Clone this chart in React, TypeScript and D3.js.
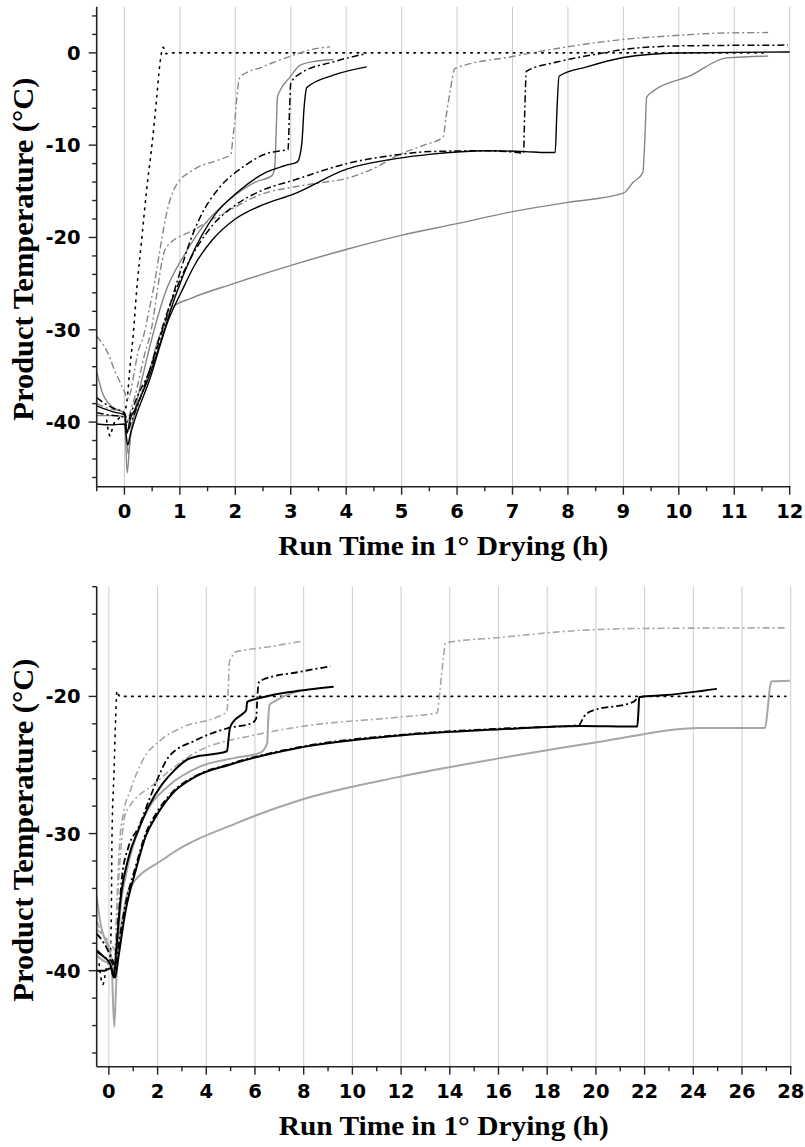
import React from 'react';
import * as d3 from 'd3';

type Pt = [number, number];

// ---------- Top panel (0–12 h) ----------
const topXMajor = [0, 1, 2, 3, 4, 5, 6, 7, 8, 9, 10, 11, 12];
const topXMinor = [-0.5, 0.5, 1.5, 2.5, 3.5, 4.5, 5.5, 6.5, 7.5, 8.5, 9.5, 10.5, 11.5];
const topYMajor = [0, -10, -20, -30, -40];
const topYMinor = [4, 2, -2, -4, -6, -8, -12, -14, -16, -18, -22, -24, -26, -28, -32, -34, -36, -38, -42, -44, -46];

const topShelf: Pt[] = [[-0.32,-39.8],[-0.26,-41.5],[-0.2,-40.3],[-0.1,-39.6],[0.0,-39.0],[0.05,-37.5],[0.1,-34.0],[0.16,-30.5],[0.22,-25.8],[0.31,-20.3],[0.40,-14.9],[0.50,-9.8],[0.58,-5.0],[0.64,-1.2],[0.70,0.6],[0.75,-0.1],[0.80,0.0],[11.6,0.0]];
const topA: Pt[] = [[-0.5,-38.25],[-0.35,-38.6],[-0.2,-38.9],[0.0,-39.2],[0.05,-41.2],[0.09,-40.0],[0.2,-38.5],[0.43,-35.3],[0.67,-31.0],[0.91,-26.5],[1.21,-22.0],[1.6,-17.8],[2.06,-15.0],[2.57,-12.9],[2.9,-12.2],[3.12,-11.8],[3.2,-9.8],[3.24,-6.0],[3.29,-3.76],[3.77,-2.42],[4.37,-1.52]];
const topB: Pt[] = [[-0.5,-37.35],[-0.35,-38.0],[-0.2,-38.5],[0.0,-39.0],[0.06,-40.0],[0.12,-39.0],[0.25,-37.0],[0.45,-34.5],[0.7,-29.8],[0.95,-24.8],[1.21,-20.0],[1.4,-17.4],[1.7,-14.7],[2.18,-12.2],[2.57,-10.9],[2.84,-10.6],[2.95,-10.5],[2.98,-6.0],[3.0,-3.3],[3.17,-2.24],[3.77,-0.97],[4.37,-0.07]];
const topC: Pt[] = [[-0.5,-34.5],[-0.41,-36.6],[-0.23,-38.3],[0.0,-39.0],[0.05,-45.5],[0.1,-42.0],[0.2,-38.5],[0.35,-34.5],[0.55,-29.7],[0.73,-26.1],[1.09,-21.8],[1.455,-18.5],[1.875,-16.0],[2.36,-14.0],[2.66,-13.3],[2.71,-12.5],[2.74,-8.0],[2.76,-4.8],[2.81,-4.05],[2.99,-2.6],[3.17,-1.34],[3.4,-0.95],[3.77,-0.72]];
const topD: Pt[] = [[-0.5,-30.7],[-0.3,-32.5],[-0.17,-34.5],[0.0,-36.7],[0.05,-37.5],[0.1,-37.0],[0.18,-34.5],[0.25,-32.3],[0.34,-30.8],[0.43,-28.3],[0.55,-24.7],[0.67,-20.3],[0.76,-17.4],[0.92,-14.5],[1.28,-12.55],[1.7,-11.6],[1.92,-11.0],[1.96,-9.0],[2.0,-6.9],[2.04,-4.0],[2.09,-2.6],[2.5,-1.5],[3.05,-0.25],[3.4,0.4],[3.71,0.65]];
const topE: Pt[] = [[-0.5,-40.2],[-0.2,-40.3],[0.0,-40.2],[0.06,-42.5],[0.1,-41.5],[0.2,-39.5],[0.45,-35.5],[0.79,-29.0],[1.035,-25.8],[1.275,-22.9],[1.58,-20.3],[2.0,-18.0],[2.48,-16.5],[3.05,-15.3],[4.01,-12.6],[4.97,-11.4],[5.5,-11.0],[6.53,-10.6],[7.23,-10.7],[7.62,-10.8],[7.77,-10.8],[7.8,-6.5],[7.84,-2.53],[8.34,-1.52],[9.0,-0.5],[9.96,-0.01],[12.0,0.1]];
const topF: Pt[] = [[-0.5,-39.0],[-0.3,-39.2],[0.0,-39.5],[0.06,-41.0],[0.12,-40.0],[0.25,-38.0],[0.5,-33.5],[0.75,-28.5],[0.975,-25.0],[1.275,-21.4],[1.6,-18.6],[2.0,-16.5],[2.48,-14.9],[3.05,-13.8],[4.01,-12.0],[4.97,-11.0],[5.5,-10.7],[6.53,-10.6],[7.0,-10.75],[7.2,-10.85],[7.22,-6.5],[7.25,-2.0],[7.8,-1.0],[8.58,-0.07],[9.0,0.37],[10.08,0.76],[11.97,0.84]];
const topG: Pt[] = [[-0.5,-38.0],[-0.3,-38.5],[0.0,-39.0],[0.05,-40.0],[0.1,-39.0],[0.2,-37.0],[0.35,-33.0],[0.5,-29.5],[0.6,-25.5],[0.68,-22.5],[0.75,-21.1],[1.275,-19.1],[1.875,-17.1],[2.48,-15.3],[3.08,-14.5],[3.5,-14.1],[4.01,-13.6],[4.5,-12.5],[4.97,-11.0],[5.4,-10.0],[5.75,-9.1],[5.8,-7.0],[5.88,-4.0],[5.96,-1.7],[7.0,-0.4],[7.98,0.65],[9.0,1.45],[10.0,1.9],[10.8,2.15],[11.61,2.2]];
const topH: Pt[] = [[-0.5,-39.3],[-0.2,-39.3],[0.0,-39.4],[0.07,-43.5],[0.12,-41.0],[0.25,-38.0],[0.45,-34.5],[0.6,-31.2],[0.7,-29.75],[0.855,-27.6],[1.2,-26.6],[1.97,-25.0],[2.99,-23.05],[4.0,-21.3],[4.97,-19.8],[6.0,-18.5],[7.0,-17.2],[8.0,-16.2],[9.0,-15.2],[9.18,-14.0],[9.35,-13.0],[9.39,-9.0],[9.42,-4.8],[9.54,-4.15],[10.2,-2.5],[10.86,-0.54],[11.61,-0.35]];

// ---------- Bottom panel (0–28 h) ----------
const botXMajor = [0, 2, 4, 6, 8, 10, 12, 14, 16, 18, 20, 22, 24, 26, 28];
const botXMinor = [1, 3, 5, 7, 9, 11, 13, 15, 17, 19, 21, 23, 25, 27];
const botYMajor = [-20, -30, -40];
const botYMinor = [-12, -14, -16, -18, -22, -24, -26, -28, -32, -34, -36, -38, -42, -44, -46];

const botShelf: Pt[] = [[-0.4,-39.5],[-0.25,-41.0],[-0.1,-39.8],[0.05,-39.0],[0.1,-36.0],[0.13,-30.0],[0.21,-25.6],[0.28,-21.5],[0.33,-19.6],[0.4,-19.9],[0.48,-20.0],[27.8,-20.0]];
const botA: Pt[] = [[-0.5,-38.5],[-0.2,-39.0],[0.05,-39.5],[0.2,-40.5],[0.3,-38.5],[0.48,-34.8],[0.8,-31.8],[1.2,-29.8],[1.64,-28.0],[2.19,-26.4],[2.74,-25.3],[3.22,-24.6],[3.56,-24.4],[4.31,-24.2],[4.85,-24.0],[4.92,-23.0],[4.97,-22.3],[5.13,-21.8],[5.47,-21.3],[5.64,-21.0],[5.68,-20.4],[6.02,-20.2],[7.18,-19.75],[8.2,-19.5],[9.23,-19.3]];
const botB: Pt[] = [[-0.5,-37.3],[-0.2,-38.0],[0.1,-39.0],[0.25,-39.5],[0.4,-36.0],[0.55,-33.0],[0.8,-31.0],[1.23,-29.5],[1.64,-27.6],[1.98,-26.1],[2.46,-24.4],[3.56,-23.2],[4.92,-22.3],[5.88,-21.95],[6.05,-21.6],[6.1,-20.0],[6.15,-19.0],[6.29,-18.8],[7.87,-18.2],[9.1,-17.8]];
const botC: Pt[] = [[-0.5,-34.6],[-0.35,-36.5],[-0.1,-38.0],[0.1,-39.0],[0.22,-44.1],[0.3,-41.0],[0.45,-36.0],[0.7,-33.0],[1.03,-30.7],[1.58,-28.3],[2.4,-26.6],[3.76,-25.1],[5.13,-24.5],[6.22,-24.1],[6.5,-23.4],[6.55,-21.5],[6.6,-20.6],[6.77,-20.4],[7.53,-19.75],[7.87,-19.6]];
const botD: Pt[] = [[-0.5,-37.0],[-0.2,-37.5],[0.1,-38.5],[0.25,-38.8],[0.35,-34.0],[0.45,-30.5],[0.6,-28.5],[0.89,-26.8],[1.44,-24.5],[2.12,-23.2],[3.08,-22.2],[4.45,-21.5],[4.85,-21.1],[4.9,-19.5],[4.95,-17.5],[5.08,-17.0],[5.13,-16.8],[6.5,-16.4],[7.94,-15.98]];
const botE: Pt[] = [[-0.5,-40.0],[-0.2,-40.0],[0.1,-39.8],[0.25,-40.5],[0.41,-38.8],[0.69,-35.6],[1.1,-32.7],[1.51,-30.2],[1.92,-28.8],[2.6,-27.1],[3.56,-25.85],[4.92,-25.0],[7.66,-23.8],[11.97,-22.85],[16.07,-22.4],[19.36,-22.15],[21.7,-22.2],[21.75,-21.0],[21.78,-20.05],[22.91,-19.9],[24.97,-19.45]];
const botF: Pt[] = [[-0.5,-38.6],[-0.2,-39.0],[0.1,-39.3],[0.25,-39.8],[0.45,-37.5],[0.7,-35.0],[1.1,-32.4],[1.51,-30.0],[1.92,-28.6],[2.6,-27.0],[3.56,-25.8],[4.92,-24.95],[7.66,-23.75],[11.97,-22.8],[16.07,-22.35],[19.3,-22.1],[19.5,-21.5],[19.77,-21.1],[21.54,-20.4],[21.7,-20.1]];
const botG: Pt[] = [[-0.5,-36.4],[-0.2,-37.5],[0.1,-38.0],[0.25,-38.5],[0.35,-35.0],[0.5,-31.0],[0.69,-28.5],[1.92,-26.3],[3.56,-24.1],[6.02,-22.8],[7.87,-22.2],[11.97,-21.5],[13.48,-21.2],[13.6,-19.5],[13.75,-17.0],[13.82,-16.1],[16.07,-15.7],[18.8,-15.25],[21.54,-15.05],[27.77,-15.0]];
const botH: Pt[] = [[-0.5,-38.9],[-0.2,-39.3],[0.1,-39.5],[0.25,-40.0],[0.4,-38.3],[0.55,-36.3],[0.82,-34.1],[2.3,-31.8],[5.3,-29.2],[7.87,-27.55],[11.97,-25.85],[16.07,-24.5],[20.18,-23.3],[24.28,-22.3],[26.95,-22.3],[27.05,-21.0],[27.15,-19.3],[27.22,-18.9],[27.97,-18.85]];

const xTitle = 'Run Time in 1° Drying (h)';
const yTitle = 'Product Temperature (°C)';

type Style = { color: string; width: number; dash?: string };

interface Series { data: Pt[]; style: Style }

interface PanelProps {
  id: string;
  top: number;
  bottom: number;
  left: number;
  right: number;
  xDomain: [number, number];
  yDomain: [number, number];
  xMajor: number[];
  xMinor: number[];
  yMajor: number[];
  yMinor: number[];
  series: Series[];
  yTitleShift: number;
}

const DASHDOT = '7,3,2,3';
const DOT = '1.6,5.5';

function Panel(p: PanelProps) {
  const x = d3.scaleLinear().domain(p.xDomain).range([p.left, p.right]);
  const y = d3.scaleLinear().domain(p.yDomain).range([p.bottom, p.top]);
  const line = d3
    .line<Pt>()
    .x((d) => x(d[0]))
    .y((d) => y(d[1]))
    .curve(d3.curveMonotoneX);
  const axisColor = '#222';
  const tickFont = { fontFamily: '"DejaVu Sans", Verdana, sans-serif', fontWeight: 700, fontSize: 19.5 };
  const serif = '"Liberation Serif", "Times New Roman", serif';
  const midY = (p.top + p.bottom) / 2 + p.yTitleShift;
  const midX = (p.left + p.right) / 2;
  return (
    <g>
      <defs>
        <clipPath id={p.id}>
          <rect x={p.left} y={p.top - 2} width={p.right - p.left + 2} height={p.bottom - p.top + 2} />
        </clipPath>
      </defs>
      {p.xMajor.map((v) => (
        <line key={'g' + v} x1={x(v)} x2={x(v)} y1={p.top} y2={p.bottom} stroke="#cccccc" strokeWidth={1} />
      ))}
      <g clipPath={`url(#${p.id})`}>
        {p.series.map((s, i) => (
          <path
            key={i}
            d={line(s.data) || ''}
            fill="none"
            stroke={s.style.color}
            strokeWidth={s.style.width}
            strokeDasharray={s.style.dash}
            strokeLinejoin="round"
            strokeLinecap={s.style.dash === DOT ? 'round' : 'butt'}
          />
        ))}
      </g>
      <line x1={p.left} x2={p.left} y1={p.top} y2={p.bottom} stroke={axisColor} strokeWidth={1.6} />
      <line x1={p.left} x2={p.right + 0.8} y1={p.bottom} y2={p.bottom} stroke={axisColor} strokeWidth={1.6} />
      {p.xMajor.map((v) => (
        <line key={'xM' + v} x1={x(v)} x2={x(v)} y1={p.bottom} y2={p.bottom + 8} stroke={axisColor} strokeWidth={1.4} />
      ))}
      {p.xMinor.map((v) => (
        <line key={'xm' + v} x1={x(v)} x2={x(v)} y1={p.bottom} y2={p.bottom + 4.5} stroke={axisColor} strokeWidth={1.4} />
      ))}
      {p.yMajor.map((v) => (
        <line key={'yM' + v} x1={p.left - 8} x2={p.left} y1={y(v)} y2={y(v)} stroke={axisColor} strokeWidth={1.4} />
      ))}
      {p.yMinor.map((v) => (
        <line key={'ym' + v} x1={p.left - 4.5} x2={p.left} y1={y(v)} y2={y(v)} stroke={axisColor} strokeWidth={1.4} />
      ))}
      {p.xMajor.map((v) => (
        <text key={'xl' + v} x={x(v)} y={p.bottom + 31.5} textAnchor="middle" {...tickFont} fill="#000">
          {v}
        </text>
      ))}
      {p.yMajor.map((v) => (
        <text key={'yl' + v} x={p.left - 16} y={y(v) + 7} textAnchor="end" {...tickFont} fill="#000">
          {v}
        </text>
      ))}
      <text
        x={midX}
        y={p.bottom + 68.5}
        textAnchor="middle"
        fontFamily={serif}
        fontWeight={700}
        fontSize={28}
        textLength={330}
        lengthAdjust="spacingAndGlyphs"
        fill="#000"
      >
        {xTitle}
      </text>
      <text
        transform={`translate(33,${midY}) rotate(-90)`}
        textAnchor="middle"
        fontFamily={serif}
        fontWeight={700}
        fontSize={30}
        textLength={343}
        lengthAdjust="spacingAndGlyphs"
        fill="#000"
      >
        {yTitle}
      </text>
    </g>
  );
}

const gTop = '#858585';
const gBot = '#a6a6a6';

export default function App() {
  const topSeries: Series[] = [
    { data: topShelf, style: { color: '#000', width: 1.6, dash: DOT } },
    { data: topH, style: { color: gTop, width: 1.4 } },
    { data: topG, style: { color: gTop, width: 1.4, dash: DASHDOT } },
    { data: topD, style: { color: gTop, width: 1.4, dash: DASHDOT } },
    { data: topC, style: { color: gTop, width: 1.4 } },
    { data: topE, style: { color: '#000', width: 1.4 } },
    { data: topF, style: { color: '#000', width: 1.5, dash: DASHDOT } },
    { data: topA, style: { color: '#000', width: 1.4 } },
    { data: topB, style: { color: '#000', width: 1.5, dash: DASHDOT } },
  ];
  const botSeries: Series[] = [
    { data: botShelf, style: { color: '#000', width: 1.6, dash: DOT } },
    { data: botH, style: { color: gBot, width: 2 } },
    { data: botG, style: { color: gBot, width: 1.6, dash: DASHDOT } },
    { data: botD, style: { color: gBot, width: 1.6, dash: DASHDOT } },
    { data: botC, style: { color: gBot, width: 2 } },
    { data: botF, style: { color: '#000', width: 1.8, dash: DASHDOT } },
    { data: botE, style: { color: '#000', width: 2 } },
    { data: botA, style: { color: '#000', width: 2 } },
    { data: botB, style: { color: '#000', width: 1.8, dash: DASHDOT } },
  ];
  return (
    <svg
      width={805}
      height={1147}
      viewBox="0 0 805 1147"
      style={{ position: 'absolute', left: 0, top: 0, background: '#fff', display: 'block' }}
    >
      <rect x={0} y={0} width={805} height={1147} fill="#fff" />
      <Panel
        id="clipTop"
        top={6.7}
        bottom={486.7}
        left={96.7}
        right={789.7}
        xDomain={[-0.5, 12]}
        yDomain={[-47, 5]}
        xMajor={topXMajor}
        xMinor={topXMinor}
        yMajor={topYMajor}
        yMinor={topYMinor}
        series={topSeries}
        yTitleShift={2.5}
      />
      <Panel
        id="clipBot"
        top={586.7}
        bottom={1066.7}
        left={96.7}
        right={790.7}
        xDomain={[-0.5, 28]}
        yDomain={[-47, -12]}
        xMajor={botXMajor}
        xMinor={botXMinor}
        yMajor={botYMajor}
        yMinor={botYMinor}
        series={botSeries}
        yTitleShift={3.5}
      />
    </svg>
  );
}
